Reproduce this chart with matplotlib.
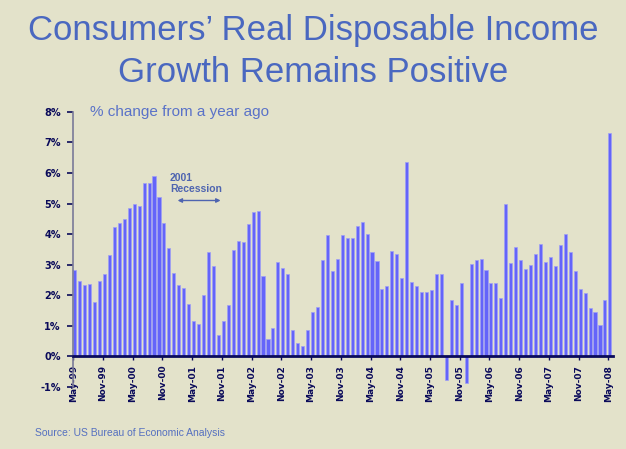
import numpy as np
import matplotlib
matplotlib.use("Agg")
import matplotlib.pyplot as plt

# monthly yoy % change in real disposable income, May-99 .. May-08
growth = [2.83, 2.48, 2.34, 2.38, 1.79, 2.48, 2.70, 3.32, 4.22, 4.37,
          4.50, 4.86, 4.98, 4.92, 5.68, 5.68, 5.90, 5.23, 4.37, 3.55,
          2.73, 2.34, 2.23, 1.72, 1.17, 1.05, 2.00, 3.41, 2.95, 0.69,
          1.17, 1.69, 3.49, 3.78, 3.75, 4.34, 4.72, 4.75, 2.62, 0.57,
          0.94, 3.09, 2.90, 2.70, 0.85, 0.44, 0.35, 0.87, 1.44, 1.61,
          3.16, 3.97, 2.79, 3.18, 3.97, 3.88, 3.88, 4.25, 4.39, 3.99,
          3.40, 3.13, 2.22, 2.29, 3.46, 3.34, 2.57, 6.37, 2.44, 2.31,
          2.11, 2.11, 2.17, 2.70, 2.70, -0.78, 1.86, 1.69, 2.40, -0.87,
          3.03, 3.14, 3.20, 2.83, 2.40, 2.40, 1.92, 4.99, 3.07, 3.57,
          3.14, 2.87, 2.98, 3.34, 3.68, 3.09, 3.25, 2.95, 3.63, 4.00,
          3.40, 2.79, 2.19, 2.08, 1.60, 1.44, 1.02, 1.85, 7.30]

tick_labels = ["May-99", "Nov-99", "May-00", "Nov-00", "May-01", "Nov-01",
               "May-02", "Nov-02", "May-03", "Nov-03", "May-04", "Nov-04",
               "May-05", "Nov-05", "May-06", "Nov-06", "May-07", "Nov-07",
               "May-08"]
y_ticks = [-1, 0, 1, 2, 3, 4, 5, 6, 7, 8]

bg = "#e3e2ca"
navy = "#0a0a5a"
title_col = "#4a68c0"

fig = plt.figure(figsize=(6.26, 4.49), dpi=100, facecolor=bg)
ax = fig.add_axes([0.117, 0.138, 0.862, 0.613])
ax.set_facecolor(bg)

x = np.arange(len(growth))
ax.bar(x, growth, width=0.62, color="#6464fa", edgecolor="#a0a0f5",
       linewidth=0.5, zorder=2)

# spine position first: moving it resets the tick settings
for s in ["top", "right"]:
    ax.spines[s].set_visible(False)
ax.spines["left"].set_color("#7a7a98")
ax.spines["left"].set_linewidth(1.2)
ax.spines["bottom"].set_position(("data", 0))
ax.spines["bottom"].set_color(navy)
ax.spines["bottom"].set_linewidth(2)
ax.spines["bottom"].set_zorder(3)

ax.set_xlim(-0.3, len(growth) - 0.4)
ax.set_ylim(-1, 8)
ax.set_yticks(y_ticks)
ax.set_yticklabels([f"{v}%" for v in y_ticks], fontsize=7,
                   fontweight="heavy", color=navy)
ax.set_xticks(x[::6] - 0.3)
ax.set_xticklabels(tick_labels, rotation=90, fontsize=6.5,
                   fontweight="heavy", color=navy)
ax.tick_params(axis="y", length=4, width=1.2, color=navy, pad=5)
ax.tick_params(axis="x", length=3, width=1, color=navy, pad=3)

fig.text(0.5, 0.933, "Consumers\u2019 Real Disposable Income",
         ha="center", va="center", fontsize=25, color=title_col,
         family="Liberation Sans")
fig.text(0.5, 0.838, "Growth Remains Positive",
         ha="center", va="center", fontsize=25, color=title_col,
         family="Liberation Sans")

fig.text(0.143, 0.75, "% change from a year ago", ha="left", va="center",
         fontsize=11, color="#5a72c8", family="Liberation Sans")

ax.text(19.2, 5.65, "2001\nRecession", ha="left", va="center",
        fontsize=7.5, fontweight="bold", color="#4e64b0",
        family="Liberation Sans", linespacing=1.1)
ax.annotate("", xy=(20.2, 5.1), xytext=(30, 5.1),
            arrowprops=dict(arrowstyle="<|-|>", color="#4e64b0", lw=1,
                            mutation_scale=6))

fig.text(0.056, 0.035, "Source: US Bureau of Economic Analysis",
         ha="left", va="center", fontsize=7.5, color="#5570c0",
         family="Liberation Sans")

fig.savefig("out.png", dpi=100, facecolor=bg)
